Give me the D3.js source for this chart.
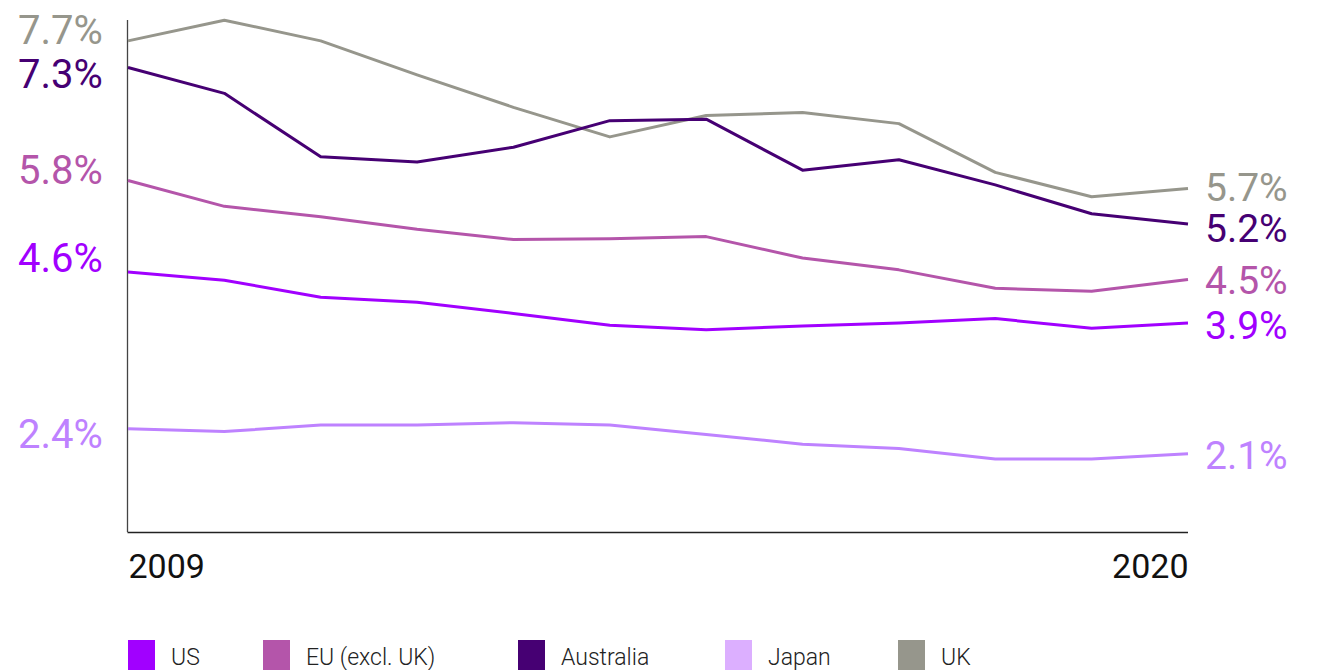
<!DOCTYPE html>
<html>
<head>
<meta charset="utf-8">
<script src="https://cdn.jsdelivr.net/npm/d3@7"></script>
<style>
  html, body { margin: 0; padding: 0; background: #fff; }
  svg { display: block; font-family: Roboto, "Noto Sans", sans-serif; }
</style>
</head>
<body>
<svg id="chart" width="1322" height="670"></svg>
<script>
// ---- data ----
const years = [2009, 2010, 2011, 2012, 2013, 2014, 2015, 2016, 2017, 2018, 2019, 2020];
const seriesNames = ["US", "EU (excl. UK)", "Australia", "Japan", "UK"];
const usValues        = [4.56, 4.45, 4.22, 4.15, 4.00, 3.84, 3.78, 3.83, 3.87, 3.93, 3.80, 3.87];
const euValues        = [5.80, 5.45, 5.31, 5.14, 5.00, 5.01, 5.04, 4.75, 4.59, 4.34, 4.30, 4.46];
const australiaValues = [7.33, 6.98, 6.12, 6.05, 6.25, 6.61, 6.63, 5.94, 6.08, 5.74, 5.35, 5.21];
const japanValues     = [2.44, 2.40, 2.49, 2.49, 2.52, 2.49, 2.36, 2.23, 2.17, 2.03, 2.03, 2.10];
const ukValues        = [7.69, 7.97, 7.69, 7.23, 6.79, 6.39, 6.68, 6.72, 6.57, 5.91, 5.58, 5.69];
const startLabels = ["4.6%", "5.8%", "7.3%", "2.4%", "7.7%"];
const endLabels   = ["3.9%", "4.5%", "5.2%", "2.1%", "5.7%"];
const xTickLabels = [2009, 2020];

// ---- styles / layout ----
const lineColors   = ["#a100ff", "#b455aa", "#460073", "#be82ff", "#96968c"];
const legendColors = ["#a100ff", "#b455aa", "#460073", "#dcafff", "#96968c"];
const startLabelDy = [0, 4, 21, 19, 3];     // baseline offset from line start
const endLabelDy   = [16, 15, 18, 15, 12];  // baseline offset from line end
const legendX = [128, 263, 518, 725, 898];

const allValues = [usValues, euValues, australiaValues, japanValues, ukValues];
const series = seriesNames.map((name, i) => ({
  name, values: allValues[i], color: lineColors[i], legendColor: legendColors[i],
  startLabel: startLabels[i], endLabel: endLabels[i],
  startDy: startLabelDy[i], endDy: endLabelDy[i], legendX: legendX[i]
}));

const svg = d3.select("#chart");
const x = d3.scaleLinear().domain([2009, 2020]).range([128, 1188]);
const y = d3.scaleLinear().domain([1, 8]).range([535, 18]);
const plotTop = 20, plotBottom = 532;

// axes
svg.append("line")
  .attr("x1", 127.5).attr("x2", 127.5).attr("y1", plotTop).attr("y2", plotBottom)
  .attr("stroke", "#444").attr("stroke-width", 1.3);

const xAxis = svg.append("g")
  .attr("transform", `translate(0,${plotBottom})`)
  .call(d3.axisBottom(x).tickValues(xTickLabels).tickFormat(d3.format("d")).tickSize(0).tickPadding(0));
xAxis.select(".domain").attr("stroke", "#222").attr("stroke-width", 1.3).attr("d", `M127.5,0.5H1188`);
xAxis.selectAll("text")
  .attr("font-size", 34).attr("fill", "#111")
  .attr("font-family", "Roboto, sans-serif")
  .attr("dy", null).attr("y", 46)
  .attr("text-anchor", (d, i) => i === 0 ? "start" : "end");

// lines
const line = d3.line().x((d, i) => x(years[i])).y(d => y(d));
svg.append("g").selectAll("path")
  .data(series.slice().reverse())
  .join("path")
  .attr("d", d => line(d.values))
  .attr("fill", "none")
  .attr("stroke", d => d.color)
  .attr("stroke-width", 3)
  .attr("stroke-linejoin", "round");

// start labels
svg.append("g").selectAll("text")
  .data(series)
  .join("text")
  .attr("x", 18)
  .attr("y", d => y(d.values[0]) + d.startDy)
  .attr("fill", d => d.color)
  .attr("font-size", 40)
  .text(d => d.startLabel);

// end labels
svg.append("g").selectAll("text")
  .data(series)
  .join("text")
  .attr("x", 1205)
  .attr("y", d => y(d.values[d.values.length - 1]) + d.endDy)
  .attr("fill", d => d.color)
  .attr("font-size", 39)
  .text(d => d.endLabel);

// legend
const lg = svg.append("g").selectAll("g").data(series).join("g")
  .attr("transform", d => `translate(${d.legendX},640)`);
lg.append("rect").attr("width", 27).attr("height", 30).attr("fill", d => d.legendColor);
lg.append("text").attr("x", 43).attr("y", 25)
  .attr("font-size", 23).attr("font-weight", 300).attr("fill", "#222")
  .text(d => d.name);
</script>
</body>
</html>
